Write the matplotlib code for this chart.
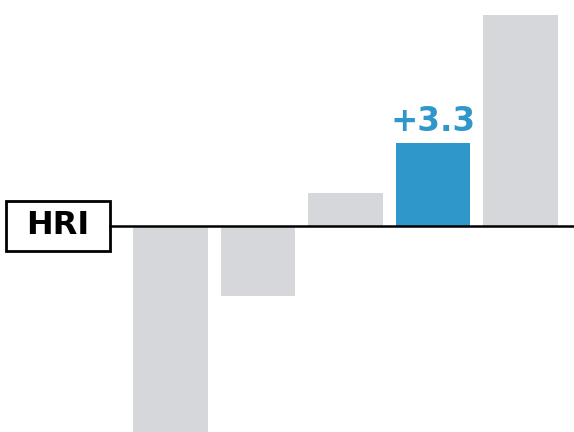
import matplotlib
matplotlib.use("Agg")
import matplotlib.pyplot as plt
from matplotlib.patches import Rectangle

categories = ["A", "B", "C", "D", "E"]
values = [-8.5, -2.8, 1.3, 3.3, 8.4]
highlight = 3
baseline_label = "HRI"

W, H = 574, 432
fig = plt.figure(figsize=(W / 100, H / 100), dpi=100)
ax = fig.add_axes([0, 0, 1, 1])
ax.set_axis_off()

gray = "#D6D7DA"
blue = "#3097CB"
x = list(range(len(values)))
colors = [blue if i == highlight else gray for i in x]
ax.bar(x, values, width=0.857, color=colors, zorder=2)

spacing = 87.5
c0 = 170.5
ax.set_xlim(-c0 / spacing, (W - c0) / spacing)
scale = 25.15
base = 226
ax.set_ylim(-(H - base) / scale, base / scale)

ax.axhline(0, xmin=110 / W, xmax=1, color="black", lw=1.8, zorder=3)

v = values[highlight]
ax.annotate(f"+{v:.1f}", (highlight, v), xytext=(0, 3.5), textcoords="offset points",
            ha="center", va="bottom", fontsize=23.5, fontweight="bold", color=blue)

fig.patches.append(Rectangle((6 / W, (H - 251) / H), 104 / W, 50 / H,
                             transform=fig.transFigure, fill=False,
                             edgecolor="black", lw=2.0))
fig.text(58 / W, (H - 226) / H, baseline_label, ha="center", va="center",
         fontsize=23, fontweight="bold", color="black")

fig.savefig("out.png", dpi=100)
